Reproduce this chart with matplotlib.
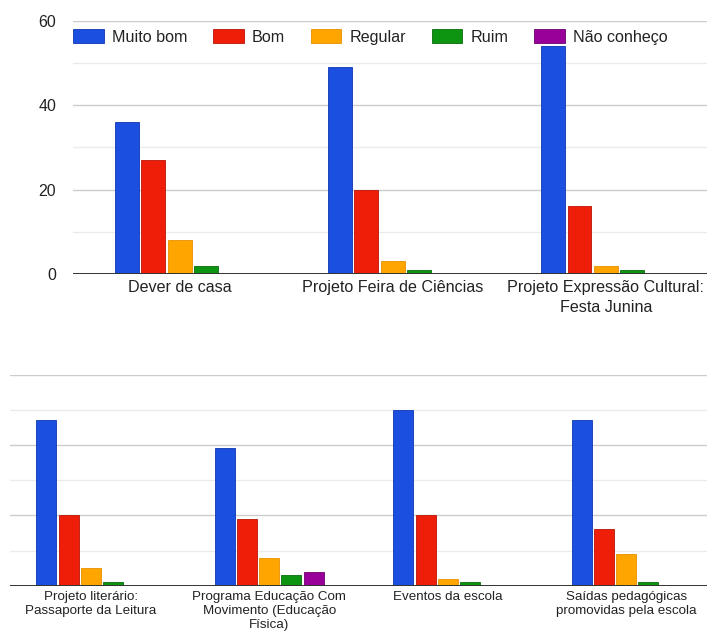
import matplotlib
matplotlib.use("Agg")
import matplotlib.pyplot as plt
import numpy as np

# ---- data ----
series_names = ["Muito bom", "Bom", "Regular", "Ruim", "Não conheço"]
series_colors = ["#1b4fe0", "#ee1e08", "#ffa500", "#0d9410", "#990099"]
edge_colors = ["#0e35b0", "#b81405", "#e89000", "#076b09", "#6e006e"]

categories_top = ["Dever de casa", "Projeto Feira de Ciências",
                  "Projeto Expressão Cultural:\nFesta Junina"]
muito_bom_top = [36, 49, 54]
bom_top = [27, 20, 16]
regular_top = [8, 3, 2]
ruim_top = [2, 1, 1]
nao_conheco_top = [0, 0, 0]

categories_bottom = ["Projeto literário:\nPassaporte da Leitura",
                     "Programa Educação Com\nMovimento (Educação\nFísica)",
                     "Eventos da escola",
                     "Saídas pedagógicas\npromovidas pela escola"]
muito_bom_bottom = [47, 39, 50, 47]
bom_bottom = [20, 19, 20, 16]
regular_bottom = [5, 8, 2, 9]
ruim_bottom = [1, 3, 1, 1]
nao_conheco_bottom = [0, 4, 0, 0]

y_ticks_top = [0, 20, 40, 60]

plt.rcParams['font.family'] = ['Liberation Sans', 'DejaVu Sans']

W, H = 707, 637
fig = plt.figure(figsize=(W / 100, H / 100), dpi=100)

def px_axes(left, top, right, bottom):
    return fig.add_axes([left / W, 1 - bottom / H, (right - left) / W, (bottom - top) / H])

ax_top = px_axes(73, 20.7, 707, 274)
ax_bot = px_axes(10, 374.5, 707, 585.7)

slot = 0.124
bar_w = 0.112

def draw(ax, cats, series, xlim, label_size, linesp, pad):
    x = np.arange(len(cats))
    for i, vals in enumerate(series):
        ax.bar(x + (i - 2) * slot, vals, width=bar_w, color=series_colors[i],
               edgecolor=edge_colors[i], linewidth=0.6, zorder=3,
               label=series_names[i])
    ax.set_xlim(*xlim)
    ax.set_ylim(0, 60)
    ax.set_yticks([0, 20, 40, 60])
    ax.set_yticks([10, 30, 50], minor=True)
    ax.grid(axis='y', which='major', color='#cccccc', linewidth=1.0, zorder=0)
    ax.grid(axis='y', which='minor', color='#ebebeb', linewidth=1.0, zorder=0)
    ax.axhline(0, color='#333333', linewidth=1.4, zorder=4)
    for s in ax.spines.values():
        s.set_visible(False)
    ax.set_xticks(x)
    ax.set_xticklabels(cats, fontsize=label_size, linespacing=linesp, color='#222222')
    ax.tick_params(axis='x', length=0, pad=pad)
    ax.tick_params(axis='y', which='both', length=0)

draw(ax_top, categories_top,
     [muito_bom_top, bom_top, regular_top, ruim_top, nao_conheco_top],
     (-0.5, 2.474), 11.6, 1.45, 4.2)
ax_top.set_yticklabels([str(v) for v in y_ticks_top], fontsize=11.5, color='#222222')
ax_top.tick_params(axis='y', pad=12.2)

draw(ax_bot, categories_bottom,
     [muito_bom_bottom, bom_bottom, regular_bottom, ruim_bottom, nao_conheco_bottom],
     (-0.452, 3.452), 9.6, 1.24, 3.6)
ax_bot.set_yticklabels([])

leg = ax_top.legend(loc='center left', bbox_to_anchor=(0, 0.936), ncol=5,
                    frameon=False, fontsize=11.6, borderaxespad=0, borderpad=0,
                    handlelength=1.9, handleheight=0.92, handletextpad=0.5,
                    columnspacing=1.6)
for t in leg.get_texts():
    t.set_color('#222222')

fig.savefig("out.png", dpi=100)
